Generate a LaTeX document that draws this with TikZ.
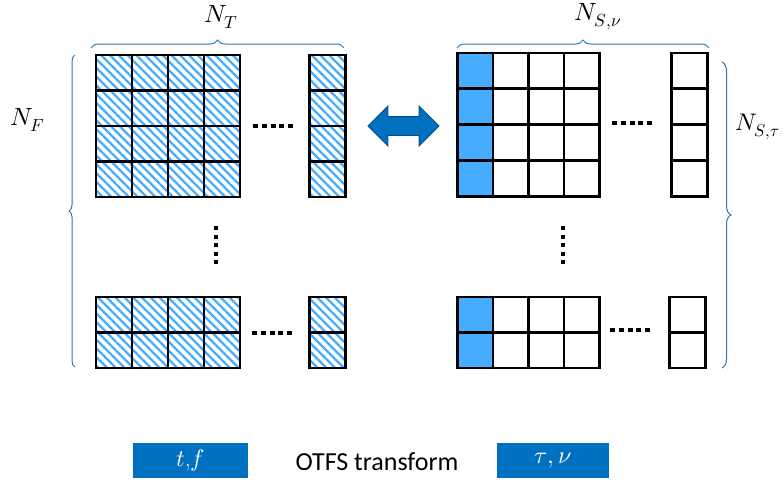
\documentclass[tikz,border=0pt]{standalone}
\usepackage{fontspec}
\setsansfont{Carlito}
\usepackage{unicode-math}
\setmathfont{Latin Modern Math}
\usepackage{tikz}
\usetikzlibrary{shapes.arrows, patterns.meta, decorations.pathreplacing}
\definecolor{cellblue}{RGB}{70,172,255}
\definecolor{boxblue}{RGB}{0,112,192}
\definecolor{bracecol}{RGB}{46,117,182}
\tikzstyle{hatched} = [draw=black, line width=2.8pt, pattern={Lines[angle=-45, distance=6.2pt, line width=2.3pt]}, pattern color=cellblue]
\tikzstyle{plain} = [draw=black, line width=2.8pt, fill=white]
\tikzstyle{filled} = [draw=black, line width=2.8pt, fill=cellblue]
\tikzstyle{hdots} = [line width=4pt, dash pattern=on 5pt off 3.75pt]
\tikzstyle{vdots} = [line width=4pt, dash pattern=on 4pt off 4.5pt]
\tikzstyle{brace} = [draw=bracecol, line width=1pt, decorate, decoration={brace, amplitude=8pt}]
\tikzstyle{label} = [font=\fontsize{25}{30}\selectfont]
\tikzstyle{legend} = [rectangle, fill=boxblue, text=white, minimum width=115pt, minimum height=35pt, font=\fontsize{24}{28}\selectfont]

\begin{document}
\begin{tikzpicture}[x=1pt, y=-1pt]
		\useasboundingbox (0,0) rectangle (782,480);
		% time-frequency grid (left)
		\foreach \c in {0,...,3}
			\foreach \r in {0,...,3}
				\draw [hatched] (96+36*\c,55+35.5*\r) rectangle ++(36,35.5);
		\foreach \r in {0,...,3}
			\draw [hatched] (309.5,55+35.5*\r) rectangle ++(36,35.5);
		\foreach \c in {0,...,3}
			\foreach \r in {0,1}
				\draw [hatched] (96+36*\c,297+35.5*\r) rectangle ++(36,35.5);
		\foreach \r in {0,1}
			\draw [hatched] (309.5,297+35.5*\r) rectangle ++(36,35.5);
		% delay-Doppler grid (right)
		\foreach \c in {0,...,3}
			\foreach \r in {0,...,3}
				\draw [plain] (457.5+35.5*\c,53+35.8*\r) rectangle ++(35.5,35.8);
		\foreach \r in {0,...,3}
			\draw [filled] (457.5,53+35.8*\r) rectangle ++(35.5,35.8);
		\foreach \r in {0,...,3}
			\draw [plain] (671.5,53+35.8*\r) rectangle ++(36,35.8);
		\foreach \c in {0,...,3}
			\foreach \r in {0,1}
				\draw [plain] (457.5+35.5*\c,297+35.5*\r) rectangle ++(35.5,35.5);
		\foreach \r in {0,1}
			\draw [filled] (457.5,297+35.5*\r) rectangle ++(35.5,35.5);
		\foreach \r in {0,1}
			\draw [plain] (669.5,297+35.5*\r) rectangle ++(36,35.5);

		% dots
		\draw [hdots] (253,126) -- (293,126);
		\draw [hdots] (252,333) -- (292,333);
		\draw [hdots] (612,123) -- (652,123);
		\draw [hdots] (610,330) -- (650,330);
		\draw [vdots] (216,226) -- (216,266);
		\draw [vdots] (563,226) -- (563,266);

		% braces and labels
		\coordinate (tl) at (91,48);
		\coordinate (tr) at (344,48);
		\draw [brace] (tl) -- (tr);
		\node [label] (nt) at (221,17) {$N_T$};
		\coordinate (lb) at (75,367);
		\coordinate (lt) at (75,55);
		\draw [brace, decoration={amplitude=6pt}] (lb) -- (lt);
		\node [label] (nf) at (28,120) {$N_F$};
		\coordinate (rl) at (457,48);
		\coordinate (rr) at (709,48);
		\draw [brace] (rl) -- (rr);
		\node [label] (nsv) at (598,17) {$N_{S,\nu}$};
		\coordinate (rt) at (722,62);
		\coordinate (rb) at (722,368);
		\draw [brace, decoration={amplitude=9pt}] (rt) -- (rb);
		\node [label, anchor=east, inner sep=1pt, font=\fontsize{24}{28}\selectfont] (nst) at (781,127) {$N_{S,\tau}$};

		% transform arrow
		\node [double arrow, fill=boxblue, draw=boxblue!70!black, line width=0.8pt, inner xsep=0pt, inner ysep=9pt, minimum height=71pt, double arrow head extend=10.5pt] (xform) at (403.5,126) {};

		% legend
		\node [legend] (tf) at (190.5,460.5) {$t$,$f$};
		\node [font=\sffamily\fontsize{26}{30}\selectfont] (otfs) at (377,462) {OTFS transform};
		\node [legend, minimum width=112pt] (tn) at (553,460.5) {$\tau,\nu$};
	\end{tikzpicture}
\end{document}
